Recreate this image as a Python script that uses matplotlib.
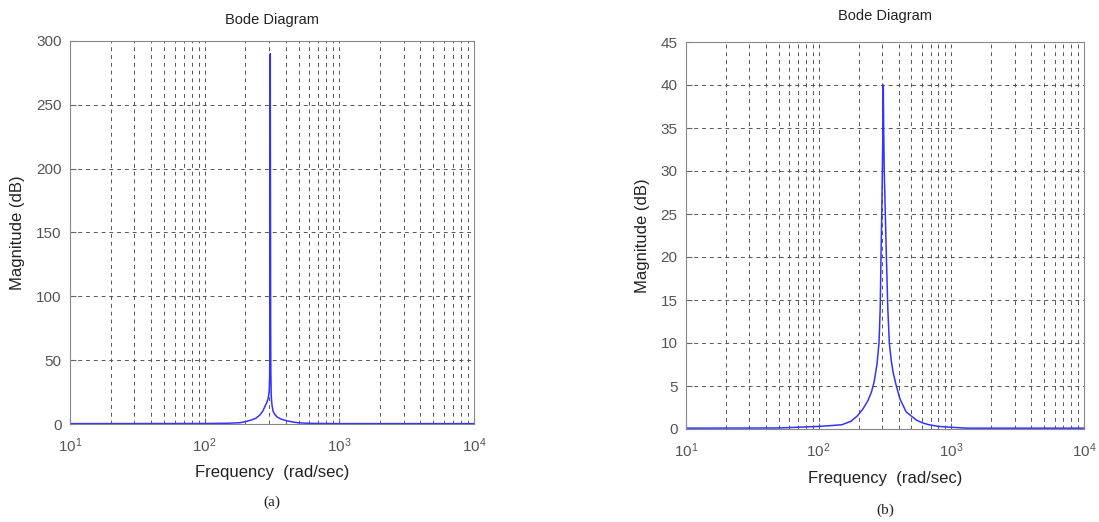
import matplotlib
matplotlib.use("Agg")
import matplotlib.pyplot as plt
from matplotlib.ticker import LogLocator, LogFormatterMathtext, MultipleLocator, NullFormatter

plt.rcParams['font.family'] = ['Liberation Sans', 'DejaVu Sans']
plt.rcParams['mathtext.fontset'] = 'custom'
plt.rcParams['mathtext.rm'] = 'Liberation Sans'
plt.rcParams['mathtext.it'] = 'Liberation Sans'

# values
freq_a = [10, 100, 150, 183, 200, 220, 240, 257, 270, 281, 290, 296, 300, 302, 304, 305, 306, 307,
          308, 309, 310, 312, 316, 322, 332, 345, 370, 407, 450, 490, 600, 1000, 10000]
mag_a  = [0.3, 0.4, 0.6, 1.0, 1.8, 3.0, 4.5, 7.0, 10, 14, 17, 20, 24, 27, 40, 80, 180, 290,
          180, 80, 40, 22, 15, 10, 7.5, 5.5, 3.8, 2.5, 1.6, 1.0, 0.5, 0.3, 0.3]

freq_b = [10, 50, 100, 125, 150, 175, 195, 215, 235, 250, 262, 275, 285, 291, 295, 299,
          302, 305, 307, 309, 312, 318, 324, 332, 341, 352, 365, 385, 410, 456, 500, 550, 610, 676,
          800, 1000, 1300, 10000]
mag_b  = [0.1, 0.12, 0.3, 0.4, 0.5, 0.9, 1.5, 2.3, 3.3, 4.3, 5.5, 7.5, 10, 14, 20, 25,
          30, 35, 40, 35, 30, 25, 20, 14, 10, 8.0, 6.5, 5.0, 3.5, 2.0, 1.5, 1.0, 0.7, 0.5,
          0.3, 0.2, 0.1, 0.1]

ylim_a, ystep_a = 300, 50
ylim_b, ystep_b = 45, 5

fig = plt.figure(figsize=(10.99, 5.22), dpi=100)
W, H = 1099., 522.

def bode(rect, f, m, ymax, ystep, label, title_y, xlab_y, lab_y):
    l, t, r, b = rect
    ax = fig.add_axes([l/W, 1-b/H, (r-l)/W, (b-t)/H])
    ax.semilogx(f, m, color='#3333ff', lw=1.1)
    ax.set_xlim(10, 1e4)
    ax.set_ylim(0, ymax)
    ax.xaxis.set_major_locator(LogLocator(base=10))
    ax.xaxis.set_minor_locator(LogLocator(base=10, subs=range(2, 10)))
    ax.xaxis.set_major_formatter(LogFormatterMathtext())
    ax.xaxis.set_minor_formatter(NullFormatter())
    ax.yaxis.set_major_locator(MultipleLocator(ystep))
    ax.grid(True, which='both', axis='x', ls=(0, (4, 4)), color='#555555', lw=0.7)
    ax.grid(True, which='major', axis='y', ls=(0, (4, 4)), color='#555555', lw=0.7)
    ax.tick_params(which='both', direction='in', colors='#666666', labelcolor='#555555', labelsize=11)
    ax.tick_params(which='major', length=4)
    ax.tick_params(which='minor', length=2)
    ax.tick_params(axis='x', pad=9)
    ax.tick_params(axis='y', pad=6)
    for s in ax.spines.values():
        s.set_color('#888888')
    cx = (l + r) / 2
    fig.text(cx/W, 1-title_y/H, 'Bode Diagram', ha='center', va='center', fontsize=10.5, color='#222222')
    fig.text(cx/W, 1-xlab_y/H, 'Frequency  (rad/sec)', ha='center', va='center', fontsize=12, color='#222222')
    fig.text(cx/W, 1-lab_y/H, label, ha='center', va='center', fontsize=11,
             family='Liberation Serif', color='#222222')
    ax.set_ylabel('Magnitude (dB)', fontsize=12, color='#222222', labelpad=8)
    return ax

bode((70, 41, 474, 424), freq_a, mag_a, ylim_a, ystep_a, '(a)', 20, 472, 502)
bode((686, 42, 1084, 429), freq_b, mag_b, ylim_b, ystep_b, '(b)', 16, 478, 510)

fig.savefig('out.png', dpi=100)
